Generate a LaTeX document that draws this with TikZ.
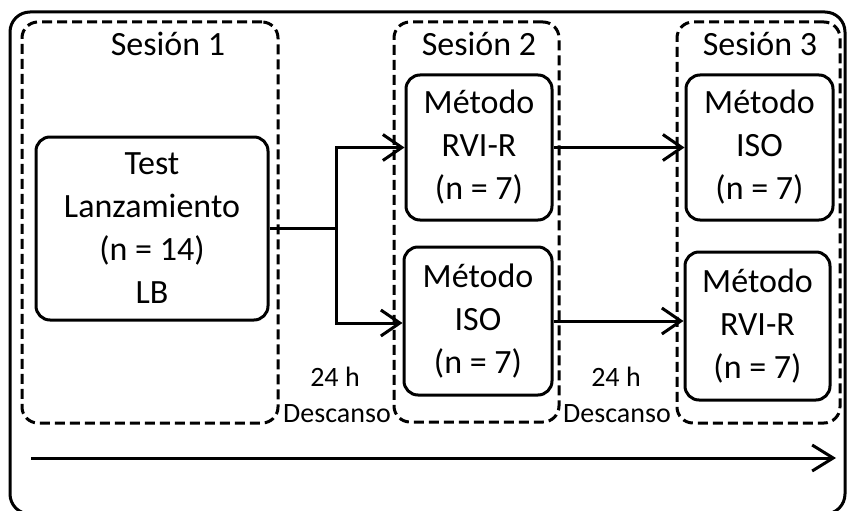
\documentclass[tikz,border=0pt]{standalone}
\usepackage{fontspec}
\setmainfont{Carlito}
\usetikzlibrary{arrows.meta,positioning,calc}

\begin{document}
\begin{tikzpicture}[x=1pt, y=-1pt,
  >={Straight Barb[length=19pt, width=26pt]},
  box/.style={draw, line width=3pt, rounded corners=14pt, align=center,
    inner sep=0pt, font=\fontsize{34}{43}\selectfont},
  session/.style={draw, line width=3pt, dash pattern=on 10pt off 5pt,
    rounded corners=16pt, inner sep=0pt},
  title/.style={font=\fontsize{34}{40}\selectfont, anchor=base},
  pause/.style={font=\fontsize{28}{34}\selectfont, anchor=base},
  link/.style={line width=3pt, ->}]

\useasboundingbox (0,0) rectangle (847,511);

%% === Outer frame ===
\draw[line width=3pt, rounded corners=20pt] (10,12) rectangle (845,514);

%% === Sessions (dashed groups) ===
\node[session, minimum width=256pt, minimum height=401pt] (ses1) at (150,222.5) {};
\node[session, minimum width=165pt, minimum height=400pt] (ses2) at (476.5,222) {};
\node[session, minimum width=163pt, minimum height=401pt] (ses3) at (758.5,222.5) {};
% titles
\node[title] (tit1) at (168,56) {Sesión 1};
\node[title] (tit2) at (479,56) {Sesión 2};
\node[title] (tit3) at (760,56) {Sesión 3};

%% === Boxes ===
\node[box, minimum width=232pt, minimum height=183pt] (test) at (152,228.5)
  {Test\\Lanzamiento\\(n = 14)\\LB};
% session 2
\node[box, minimum width=146pt, minimum height=145pt] (rvi2) at (479,147.5)
  {Método\\RVI-R\\(n = 7)};
\node[box, minimum width=148pt, minimum height=148pt] (iso2) at (478,321)
  {Método\\ISO\\(n = 7)};
% session 3
\node[box, minimum width=147pt, minimum height=145pt] (iso3) at (759.5,147.5)
  {Método\\ISO\\(n = 7)};
\node[box, minimum width=145pt, minimum height=148pt] (rvi3) at (757.5,326)
  {Método\\RVI-R\\(n = 7)};

%% === Connectors ===
\draw[line width=3pt] (test.east) -- ++(67,0) coordinate (split);
\draw[link] (split) |- (rvi2.west);
\draw[link] (split) |- ($(iso2.west)+(0,2)$);
\draw[link] (rvi2.east) -- (iso3.west);
\draw[link] (iso2.east) -- (iso2.east -| rvi3.west);

%% === Rest labels ===
\node[pause] (h1) at (335,386) {24 h};
\node[pause] (d1) at (337,422) {Descanso};
\node[pause] (h2) at (616,386) {24 h};
\node[pause] (d2) at (617,422) {Descanso};

%% === Time axis ===
\coordinate (t0) at (31,458);
\coordinate (t1) at (836,458);
\draw[link, >={Straight Barb[length=21pt, width=26pt]}] (t0) -- (t1);

\end{tikzpicture}
\end{document}
